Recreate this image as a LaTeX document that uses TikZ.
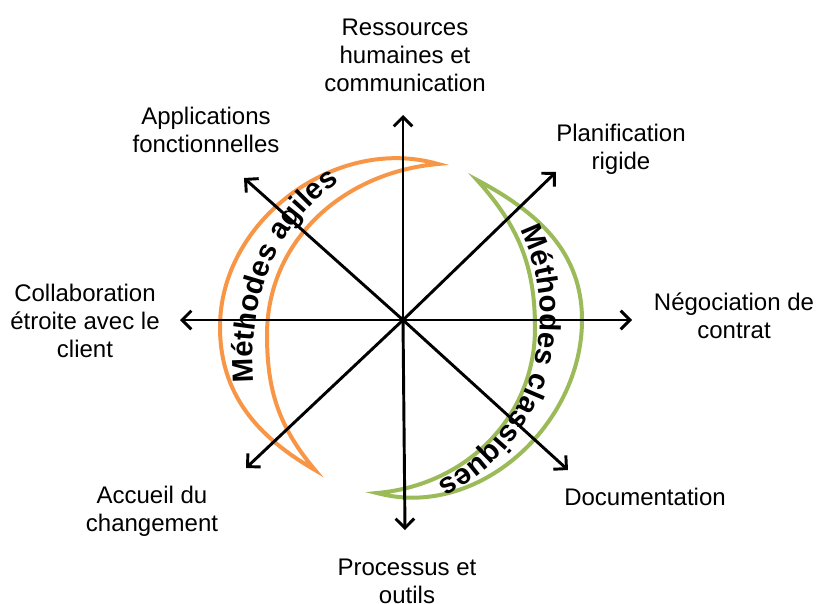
\documentclass[tikz,border=0pt]{standalone}
\usepackage{fontspec}
\setmainfont{Liberation Sans}
\usetikzlibrary{arrows.meta,decorations.text}
\definecolor{agileorange}{HTML}{F79646}
\definecolor{classicgreen}{HTML}{9BBB59}
\newcommand{\crescentfont}{\fontsize{22}{26}\selectfont\bfseries}
\begin{document}
\begin{tikzpicture}[x=0.75pt,y=0.75pt]
			\tikzstyle{axislabel}=[align=center,font=\fontsize{18}{21}\selectfont,inner sep=0pt]
			\tikzstyle{arrowaxis}=[line width=2.2pt,-{Straight Barb[length=7pt,width=14pt]}]
			\tikzstyle{crescent}=[line width=3pt]
			\useasboundingbox (0,0) rectangle (817,-603);
			
			% crescents
			\draw[crescent,agileorange] (438,-164) to[out=164,in=90] (220,-327) to[out=-90,in=150] (315,-470)
			to[in=-90,out=130] (267,-335) to[in=185,out=90] cycle;
			\draw[crescent,classicgreen] (477,-180) to[out=-28,in=90] (582,-320) to[out=-90,in=-15] (377,-493)
			to[in=-90,out=5] (535,-328) to[in=-48,out=90] cycle;
			
			\begin{scope}
			\coordinate (O) at (403,-320);
			\coordinate (N) at (403,-115);
			\coordinate (S) at (405,-530);
			\coordinate (W) at (180,-320);
			\coordinate (E) at (632,-320);
			\coordinate (NE) at (556,-172);
			\coordinate (NW) at (244,-178);
			\coordinate (SW) at (246,-468);
			\coordinate (SE) at (568,-470);
			\end{scope}
			
			\path[arrowaxis]
			(O) edge (N)
			(O) edge (S)
			(O) edge (W)
			(O) edge (E)
			(O) edge (NE)
			(O) edge (NW)
			(O) edge (SW)
			(O) edge (SE)
			;
			
			\node[axislabel] (rh) at (405,-55) {Ressources\\humaines et\\communication};
			\node[axislabel] (app) at (206,-130) {Applications\\fonctionnelles};
			\node[axislabel] (plan) at (621,-149) {Planification\\rigide};
			\node[axislabel] (collab) at (85,-321) {Collaboration\\étroite avec le\\client};
			\node[axislabel] (nego) at (734,-316) {Négociation de\\contrat};
			\node[axislabel] (accueil) at (152,-511) {Accueil du\\changement};
			\node[axislabel] (doc) at (645,-497) {Documentation};
			\node[axislabel] (proc) at (407,-581) {Processus et\\outils};
			
			% texts along the crescents
			\path[decorate,decoration={text along path,text align=left,
			text={|\crescentfont|Méthodes agiles}}]
			(254,-382) .. controls (247,-290) and (280,-205) .. (375,-162);
			\path[decorate,decoration={text along path,text align=left,
			text={|\crescentfont|Méthodes classiques}}]
			(520,-230) .. controls (556,-300) and (552,-425) .. (432,-486);
		\end{tikzpicture}
\end{document}
